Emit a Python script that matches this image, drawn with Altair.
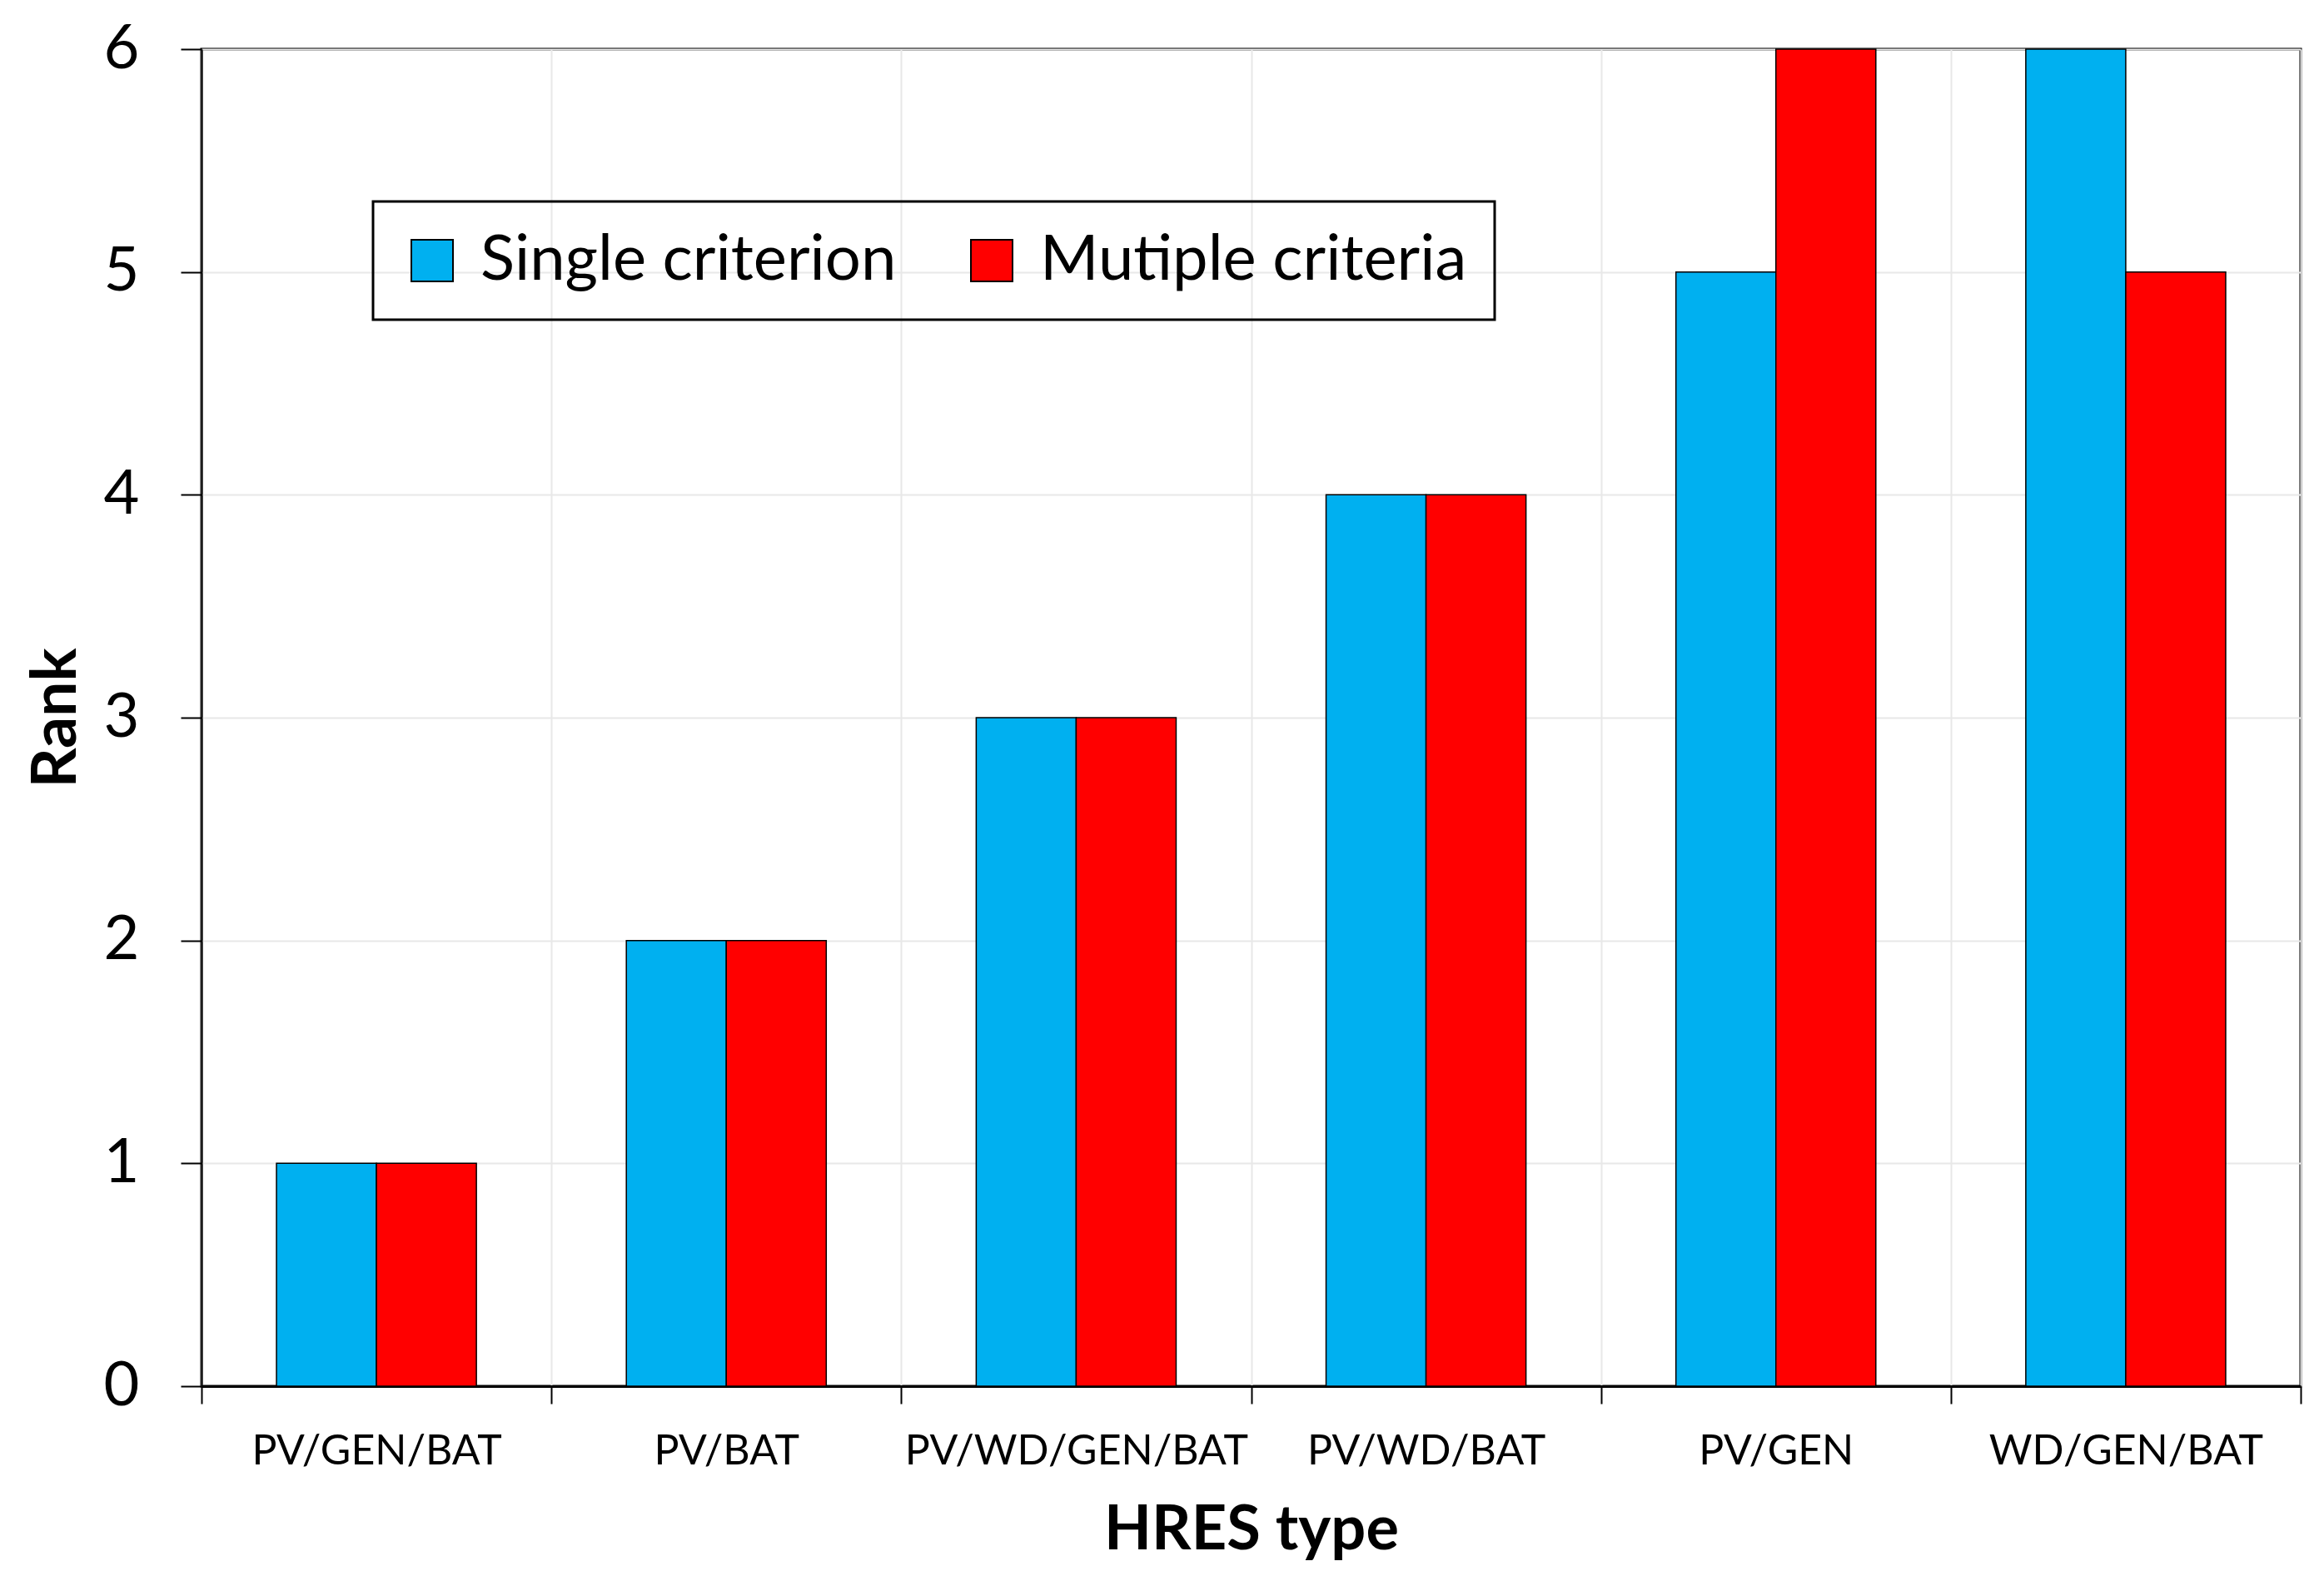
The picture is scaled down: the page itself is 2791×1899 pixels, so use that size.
import altair as alt
import pandas as pd

categories = ["PV/GEN/BAT", "PV/BAT", "PV/WD/GEN/BAT", "PV/WD/BAT", "PV/GEN", "WD/GEN/BAT"]
series_names = ["Single criterion", "Mutiple criteria"]
single_rank = [1, 2, 3, 4, 5, 6]
multiple_rank = [1, 2, 3, 4, 6, 5]
y_ticks = [0, 1, 2, 3, 4, 5, 6]
colors = ["#00B0F0", "#FF0000"]

rows = []
for c, s, m in zip(categories, single_rank, multiple_rank):
    rows.append({"type": c, "series": series_names[0], "rank": s})
    rows.append({"type": c, "series": series_names[1], "rank": m})
df = pd.DataFrame(rows)

FONT = "Lato"

chart = alt.Chart(df).mark_bar(stroke="black", strokeWidth=1.5).encode(
    x=alt.X(
        "type:N",
        sort=categories,
        scale=alt.Scale(paddingInner=0, paddingOuter=0),
        axis=alt.Axis(
            title="HRES type",
            labelAngle=0,
            labelLimit=1000,
            tickBand="extent",
            tickSize=21,
            tickWidth=2,
            tickColor="black",
            labelPadding=32,
            labelFontSize=50,
            labelFont=FONT,
            labelColor="black",
            titleFont=FONT,
            titleFontSize=74,
            titleFontWeight="bold",
            titleColor="black",
            titlePadding=34,
            domainColor="black",
            domainWidth=3,
            grid=True,
            gridColor="#e8e8e8",
            gridWidth=2,
        ),
    ),
    xOffset=alt.XOffset(
        "series:N",
        sort=series_names,
        scale=alt.Scale(paddingInner=0, paddingOuter=0.75),
    ),
    y=alt.Y(
        "rank:Q",
        scale=alt.Scale(domain=[0, 6], nice=False),
        axis=alt.Axis(
            title="Rank",
            values=y_ticks,
            format="d",
            tickSize=25,
            tickWidth=2,
            tickColor="black",
            labelPadding=50,
            labelFontSize=74,
            labelFont=FONT,
            labelColor="black",
            titleFont=FONT,
            titleFontSize=75,
            titleFontWeight="bold",
            titleColor="black",
            titlePadding=18,
            domainColor="black",
            domainWidth=2,
            grid=True,
            gridColor="#e8e8e8",
            gridWidth=2,
        ),
    ),
    color=alt.Color(
        "series:N",
        sort=series_names,
        scale=alt.Scale(domain=series_names, range=colors),
        legend=alt.Legend(
            title=None,
            orient="none",
            direction="horizontal",
            legendX=206,
            legendY=183,
            padding=33,
            strokeColor="black",
            symbolType="square",
            symbolSize=2500,
            symbolStrokeColor="black",
            symbolStrokeWidth=2,
            labelFont=FONT,
            labelFontSize=76,
            labelColor="black",
            labelOffset=20,
            columnPadding=76,
            labelLimit=1000,
        ),
    ),
).properties(
    width=2521,
    height=1606,
    autosize=alt.AutoSizeParams(type="none"),
    padding={"left": 234, "top": 51, "right": 20, "bottom": 226},
).configure_view(
    stroke="black",
    strokeWidth=3,
).configure_legend(
    strokeWidth=3,
)

chart.save("out.html", embed_options={"renderer": "svg", "actions": False})
